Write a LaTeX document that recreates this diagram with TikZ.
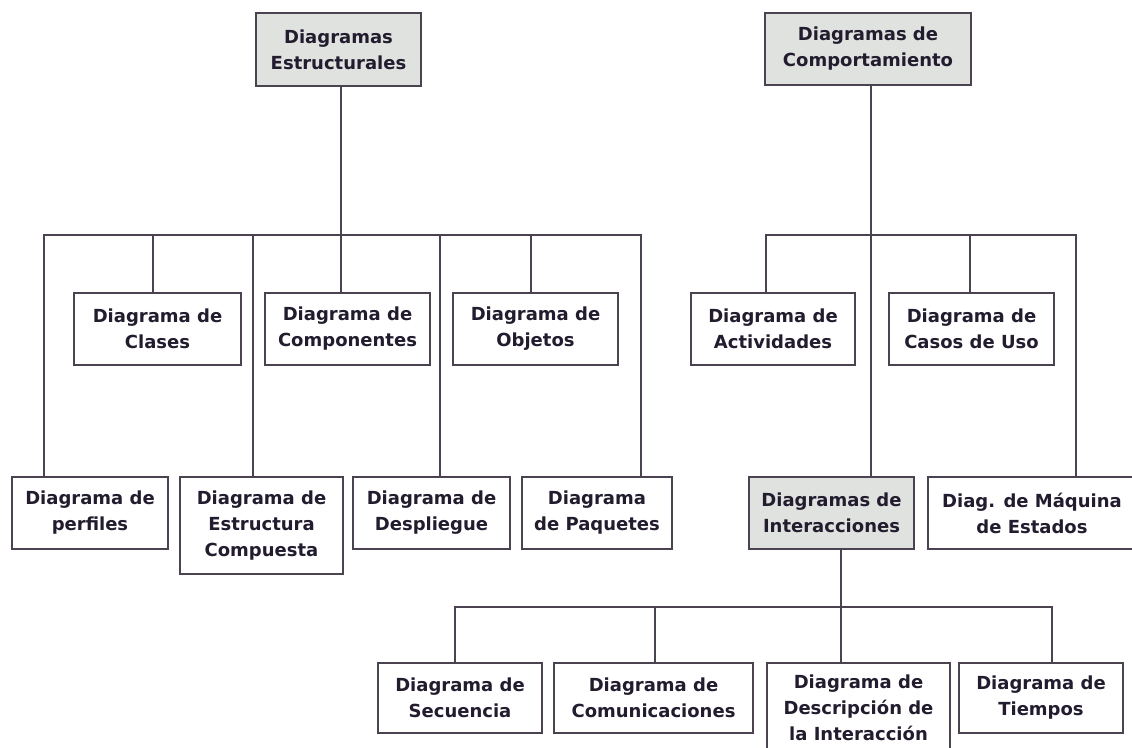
\documentclass[tikz,border=0pt]{standalone}
\usepackage{fontspec}
\setmainfont{DejaVu Sans}
\definecolor{linec}{HTML}{4B4450}
\definecolor{textc}{HTML}{221C2E}
\definecolor{grayfill}{HTML}{DFE2DF}
\tikzset{
  box/.style={draw=linec, line width=1.8pt, fill=white, text=textc,
    font=\bfseries\fontsize{18}{26}\selectfont, align=center, inner sep=0pt},
  graybox/.style={box, fill=grayfill},
  conn/.style={draw=linec, line width=1.8pt}
}
\begin{document}
\begin{tikzpicture}[x=1pt,y=-1pt]
\useasboundingbox (0,0) rectangle (1132,747);
\fill[white] (0,0) rectangle (1132,747);
\clip (0,0) rectangle (1132,747);
% top level
\node[graybox, minimum width=165pt, minimum height=73pt] (est) at (338.5,49.5) {Diagramas\\Estructurales};
\node[graybox, minimum width=206pt, minimum height=72pt] (comp) at (868,49) {Diagramas de\\Comportamiento};
% row 1
\node[box, minimum width=167pt, minimum height=72pt] (clases) at (157.5,329) {Diagrama de\\Clases};
\node[box, minimum width=165pt, minimum height=72pt] (compo) at (347.5,329) {Diagrama de\\Componentes};
\node[box, minimum width=165pt, minimum height=72pt] (obj) at (535.5,329) {Diagrama de\\Objetos};
\node[box, minimum width=164pt, minimum height=72pt] (activ) at (773,329) {Diagrama de\\Actividades};
\node[box, minimum width=165pt, minimum height=72pt] (casos) at (971.5,329) {Diagrama de\\Casos de Uso};
% row 2
\node[box, minimum width=156pt, minimum height=72pt] (perf) at (90,513) {Diagrama de\\perfiles};
\node[box, minimum width=163pt, minimum height=97pt] (estr) at (261.5,525.5) {Diagrama de\\Estructura\\Compuesta};
\node[box, minimum width=157pt, minimum height=72pt] (desp) at (431.5,513) {Diagrama de\\Despliegue};
\node[box, minimum width=150pt, minimum height=72pt] (paq) at (597,513) {Diagrama\\de Paquetes};
\node[graybox, minimum width=165pt, minimum height=72pt] (inter) at (831.5,513) {Diagramas de\\Interacciones};
\node[box, minimum width=208pt, minimum height=72pt] (maq) at (1032,513) {Diag. de Máquina\\de Estados};
% row 3
\node[box, minimum width=164pt, minimum height=70pt] (sec) at (460,698) {Diagrama de\\Secuencia};
\node[box, minimum width=199pt, minimum height=70pt] (comu) at (653.5,698) {Diagrama de\\Comunicaciones};
\node[box, minimum width=183pt, minimum height=89pt] (desc) at (858.5,707.5) {Diagrama de\\Descripción de\\la Interacción};
\node[box, minimum width=164pt, minimum height=70pt] (tiem) at (1041,698) {Diagrama de\\Tiempos};
% bus points
\coordinate (busL) at (341,235);
\coordinate (busR) at (871,235);
\coordinate (busB) at (841,607);
% left tree
\draw[conn] (est.south -| busL) -- (busL);
\draw[conn] (busL) -| (perf.north -| 44,0);
\draw[conn] (busL) -| (clases.north -| 153,0);
\draw[conn] (busL) -| (estr.north -| 253,0);
\draw[conn] (busL) -- (compo.north -| busL);
\draw[conn] (busL) -| (desp.north -| 440,0);
\draw[conn] (busL) -| (obj.north -| 531,0);
\draw[conn] (busL) -| (paq.north -| 641,0);
% right tree
\draw[conn] (comp.south -| busR) -- (inter.north -| busR);
\draw[conn] (busR) -| (activ.north -| 766,0);
\draw[conn] (busR) -| (casos.north -| 970,0);
\draw[conn] (busR) -| (maq.north -| 1076,0);
% interactions tree
\draw[conn] (inter.south -| busB) -- (busB);
\draw[conn] (busB) -| (sec.north -| 455,0);
\draw[conn] (busB) -| (comu.north -| 655,0);
\draw[conn] (busB) -- (desc.north -| busB);
\draw[conn] (busB) -| (tiem.north -| 1052,0);
\end{tikzpicture}
\end{document}
